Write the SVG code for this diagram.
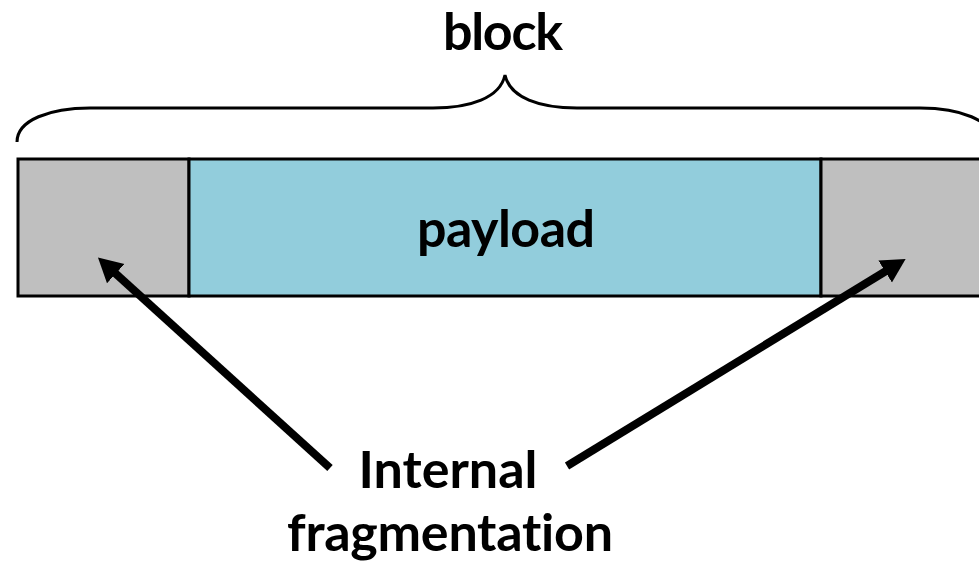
<svg xmlns="http://www.w3.org/2000/svg" width="979" height="565" viewBox="0 0 979 565">
  <style>
    .label { font-family: Lato, "Open Sans", "Liberation Sans", sans-serif; font-weight: bold; font-size: 52px; fill: #000; text-anchor: middle; font-variant-ligatures: none; }
    .cell { stroke: #000; stroke-width: 3; }
    .pad { fill: #bfbfbf; }
    .data { fill: #92cddc; }
    .brace { fill: none; stroke: #000; stroke-width: 3; }
    .arrow { fill: none; stroke: #000; stroke-width: 8; marker-end: url(#head); }
  </style>
  <defs>
    <marker id="head" markerUnits="userSpaceOnUse" markerWidth="26" markerHeight="28" viewBox="0 -14 26 28" refX="1" refY="0" orient="auto">
      <path d="M0,-13 L24,0 L0,13 z" fill="#000"/>
    </marker>
  </defs>

  <rect width="979" height="565" fill="#fff"/>

  <!-- brace spanning the whole block -->
  <g id="block-brace">
    <path class="brace" d="M17,142 C17,120 50,108 90,108 L433,108 C470,108 500,98 505,75 C510,98 540,108 577,108 L920,108 C960,108 993,120 993,142"/>
    <text class="label" x="503" y="50" textLength="120">block</text>
  </g>

  <!-- block cells -->
  <g id="pad-left">
    <rect class="cell pad" x="18" y="159" width="171" height="137"/>
  </g>
  <g id="payload">
    <rect class="cell data" x="189" y="159" width="632" height="137"/>
    <text class="label" x="506" y="247" textLength="178">payload</text>
  </g>
  <g id="pad-right">
    <rect class="cell pad" x="821" y="159" width="170" height="137"/>
  </g>

  <!-- caption -->
  <g id="caption">
    <text class="label" x="448" y="488" textLength="179">Internal</text>
    <text class="label" x="450" y="551" textLength="326">fragmentation</text>
  </g>

  <!-- connectors -->
  <g id="connectors">
    <line class="arrow" x1="330" y1="468" x2="115" y2="273"/>
    <line class="arrow" x1="567" y1="466" x2="886" y2="271"/>
  </g>
</svg>
